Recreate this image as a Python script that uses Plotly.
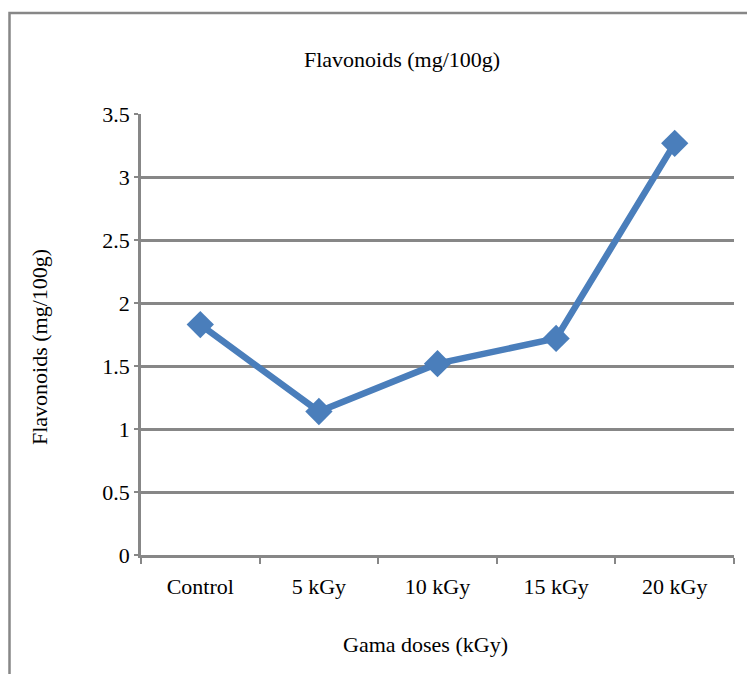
import plotly.graph_objects as go

doses = ["Control", "5 kGy", "10 kGy", "15 kGy", "20 kGy"]
flavonoids = [1.83, 1.14, 1.52, 1.72, 3.27]

y_ticks = [0, 0.5, 1, 1.5, 2, 2.5, 3, 3.5]
y_labels = ["0", "0.5", "1", "1.5", "2", "2.5", "3", "3.5"]

grey = "#878787"
blue = "#4a7ebb"
font = "Liberation Serif, Times New Roman, serif"

# page body has an 8px margin, so the figure is shifted by that much
off = 8
left, top, pw, ph = 141 - off, 114 - off, 593, 441

fig = go.Figure()
fig.add_trace(go.Scatter(
    x=doses, y=flavonoids, mode="lines+markers",
    line=dict(color=blue, width=6.5),
    marker=dict(symbol="diamond", size=21, color=blue),
    showlegend=False,
))

fig.update_layout(
    width=755, height=674,
    margin=dict(l=left, r=755 - left - pw, t=top, b=674 - top - ph),
    paper_bgcolor="white", plot_bgcolor="white",
    font=dict(family=font, size=22, color="black"),
    title=dict(text="Flavonoids (mg/100g)", x=(402 - off) / 755, xanchor="center",
               y=1 - (59 - off) / 674, yanchor="middle", font=dict(size=22)),
    shapes=[dict(type="rect", xref="paper", yref="paper",
                 x0=(off + 1.5 - 141) / pw, x1=1.2, y0=-0.5,
                 y1=(555 - 13) / ph,
                 line=dict(color=grey, width=2.5), layer="below")],
    annotations=[
        dict(text="Flavonoids (mg/100g)", xref="paper", yref="paper",
             x=(39 - 141) / pw, y=(555 - 347) / ph, textangle=-90,
             showarrow=False, xanchor="center", yanchor="middle",
             font=dict(size=22)),
        dict(text="Gama doses (kGy)", xref="paper", yref="paper",
             x=(425 - 141) / pw, y=(555 - 644) / ph,
             showarrow=False, xanchor="center", yanchor="middle",
             font=dict(size=22)),
    ],
)

fig.update_xaxes(
    type="category", showgrid=False, showline=True, linecolor=grey,
    linewidth=2.5, ticks="outside", tickson="boundaries", ticklen=6,
    tickcolor=grey, tickwidth=2, tickfont=dict(size=22),
    ticklabelstandoff=10, range=[-0.5, 4.5],
)
fig.update_yaxes(
    range=[0, 3.503], tickvals=y_ticks, ticktext=y_labels,
    showgrid=True, gridcolor=grey, gridwidth=2.5,
    showline=True, linecolor=grey, linewidth=2.5,
    ticks="outside", ticklen=4, tickcolor=grey, tickwidth=2,
    zeroline=False, tickfont=dict(size=22),
)

fig.write_html("out.html")
